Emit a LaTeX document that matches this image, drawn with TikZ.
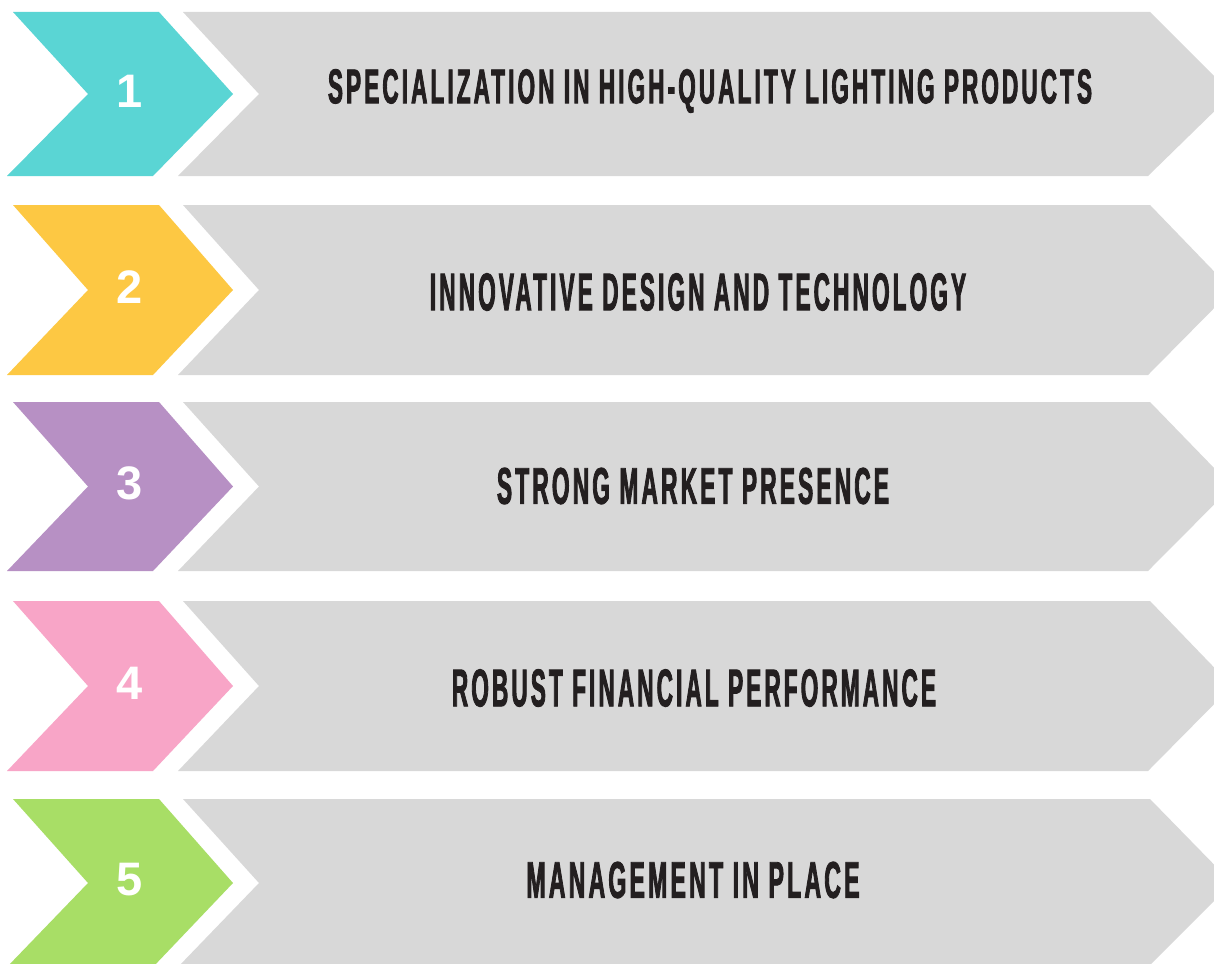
\documentclass[tikz,border=0pt]{standalone}
\usepackage{fontspec}
\setmainfont{Liberation Sans}
\newfontfamily\headfont{Liberation Sans Bold}[FakeStretch=0.5,FakeBold=1.8,LetterSpace=7]
\newfontfamily\numfont{Liberation Sans Bold}
\definecolor{cteal}{HTML}{5AD5D4}
\definecolor{cyellow}{HTML}{FDC843}
\definecolor{cpurple}{HTML}{B790C4}
\definecolor{cpink}{HTML}{F8A5C7}
\definecolor{cgreen}{HTML}{A8DE66}
\definecolor{cgray}{HTML}{D8D8D8}
\definecolor{ctext}{HTML}{231F20}
\tikzset{
  numstyle/.style={text=white, font=\numfont\fontsize{47}{47}\selectfont, inner sep=0pt, anchor=center},
  txtstyle/.style={text=ctext, inner sep=0pt, anchor=center},
  graybox/.style={fill=cgray},
}
% #1 name, #2 top, #3 bottom, #4 colour, #5 number, #6 text, #7 width, #8 cap height, #9 text centre
\newcommand\chevrow[9]{%
  \pgfmathsetmacro\rmid{(#2+#3)/2}%
  \path[fill=#4] (13,#2) -- (159,#2) -- (233,\rmid) -- (153,#3) -- (7,#3) -- (88,\rmid) -- cycle;
  \path[graybox] (183,#2) -- (1150,#2) -- (1232,\rmid) -- (1148,#3) -- (178,#3) -- (259,\rmid) -- cycle;
  \node[numstyle] (#1n) at (130,\rmid-3) {#5};
  \node[txtstyle] (#1t) at (#9) {\resizebox{#7pt}{#8pt}{\headfont #6}};
}
\begin{document}
\begin{tikzpicture}[x=1pt,y=-1pt]
\useasboundingbox (0,0) rectangle (1214,963);
\fill[white] (0,0) rectangle (1214,963);
\clip (0,0) rectangle (1214,963);
\chevrow{r1}{12}{176}{cteal}{1}{SPECIALIZATION IN HIGH-QUALITY LIGHTING PRODUCTS}{764}{34}{710,91}
\chevrow{r2}{205}{375}{cyellow}{2}{INNOVATIVE DESIGN AND TECHNOLOGY}{536}{37}{698,292}
\chevrow{r3}{402}{571}{cpurple}{3}{STRONG MARKET PRESENCE}{392}{36}{693,486}
\chevrow{r4}{601}{771}{cpink}{4}{ROBUST FINANCIAL PERFORMANCE}{484}{37}{694,688}
\chevrow{r5}{799}{967}{cgreen}{5}{MANAGEMENT IN PLACE}{333}{36}{693,880}
\end{tikzpicture}
\end{document}
